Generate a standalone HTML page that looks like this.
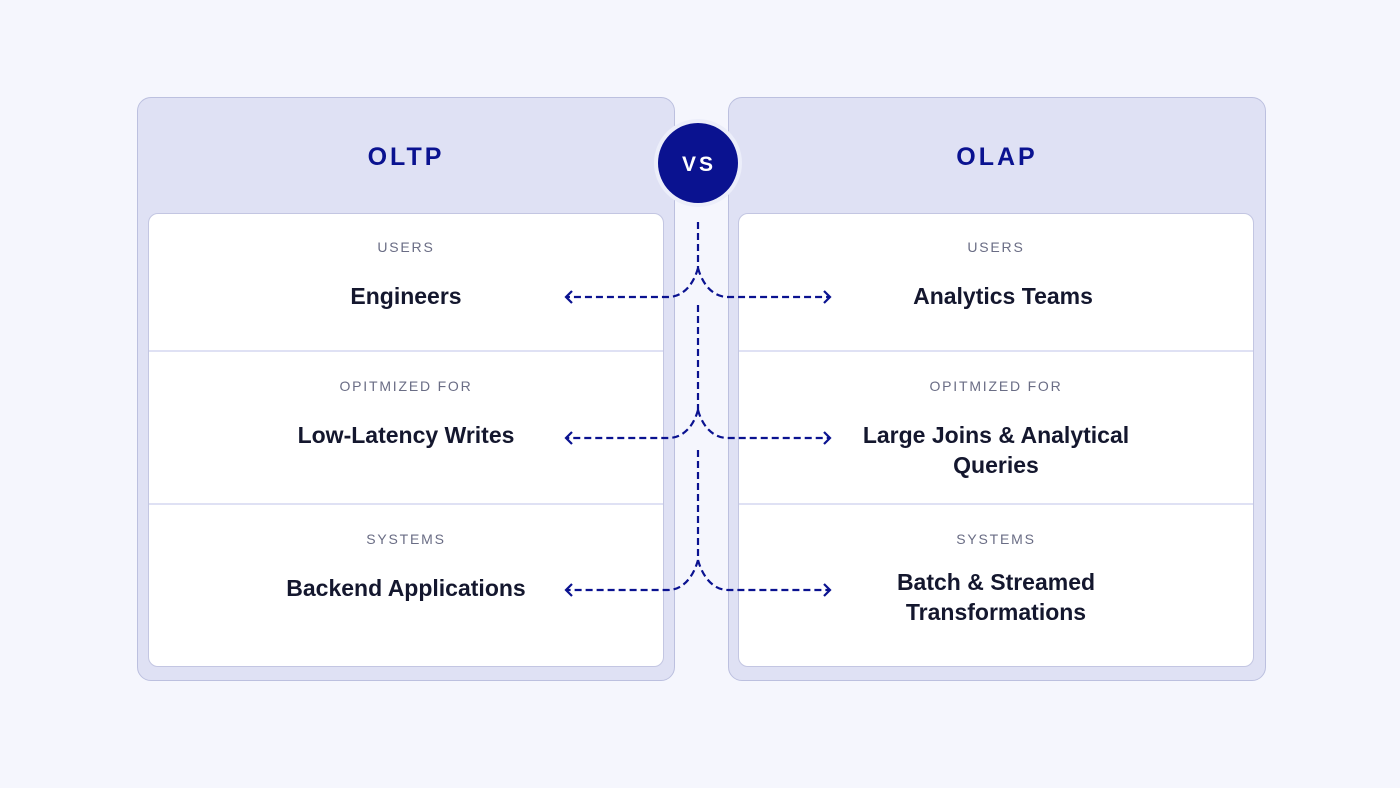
<!DOCTYPE html>
<html><head><style>
body{margin:0;width:1400px;height:788px;background:#f5f6fd;position:relative;overflow:hidden;font-family:"Liberation Sans",sans-serif}
.outer{position:absolute;top:97px;width:538px;height:584px;background:#dfe1f4;border:1.5px solid #bcc0df;border-radius:14px;box-sizing:border-box}
.inner{position:absolute;top:213px;width:516px;height:454px;background:#fff;border:1.5px solid #c3c6e2;border-radius:10px;box-sizing:border-box}
.div{position:absolute;height:2px;background:#dfe1f4;width:514px}
.h{position:absolute;top:143px;width:538px;text-align:center;font-size:25px;font-weight:bold;letter-spacing:3px;color:#0a1290}
.lab{position:absolute;width:516px;text-align:center;font-size:14px;letter-spacing:1.8px;color:#6a6d85}
.t{position:absolute;width:516px;text-align:center;font-size:23px;font-weight:bold;color:#14172e;line-height:30px}
</style></head><body>
<div class="outer" style="left:137px"></div>
<div class="outer" style="left:728px"></div>
<div class="inner" style="left:148px"></div>
<div class="inner" style="left:738px"></div>
<div class="div" style="left:149px;top:350px"></div>
<div class="div" style="left:149px;top:503px"></div>
<div class="div" style="left:739px;top:350px"></div>
<div class="div" style="left:739px;top:503px"></div>
<div class="h" style="left:137px">OLTP</div>
<div class="h" style="left:728px">OLAP</div>

<div class="lab" style="left:148px;top:239px">USERS</div>
<div class="t" style="left:148px;top:281px">Engineers</div>
<div class="lab" style="left:148px;top:378px">OPITMIZED FOR</div>
<div class="t" style="left:148px;top:420px">Low-Latency Writes</div>
<div class="lab" style="left:148px;top:531px">SYSTEMS</div>
<div class="t" style="left:148px;top:573px">Backend Applications</div>

<div class="lab" style="left:738px;top:239px">USERS</div>
<div class="t" style="left:745px;top:281px">Analytics Teams</div>
<div class="lab" style="left:738px;top:378px">OPITMIZED FOR</div>
<div class="t" style="left:738px;top:420px">Large Joins &amp; Analytical<br>Queries</div>
<div class="lab" style="left:738px;top:531px">SYSTEMS</div>
<div class="t" style="left:738px;top:567px">Batch &amp; Streamed<br>Transformations</div>

<svg width="1400" height="788" style="position:absolute;left:0;top:0">
<circle cx="698" cy="163" r="44" fill="#eceefa"/>
<circle cx="698" cy="163" r="40" fill="#0a1290"/>
<text x="699" y="171" text-anchor="middle" font-family="Liberation Sans" font-weight="bold" font-size="21" letter-spacing="3" fill="#fff">VS</text>
<g fill="none" stroke="#0a1290" stroke-width="2.2" stroke-dasharray="7 4">
<path d="M698 222V268 M698 268C702 283 712 297 728 297H829 M698 268C694 283 684 297 668 297H567"/>
<path d="M698 305V410 M698 410C702 425 712 438 728 438H829 M698 410C694 425 684 438 668 438H567"/>
<path d="M698 450V560 M698 560C702 575 712 590 728 590H829 M698 560C694 575 684 590 668 590H567"/>
</g>
<g fill="none" stroke="#0a1290" stroke-width="2.2">
<path d="M824 291L830 297L824 303M572 291L566 297L572 303"/>
<path d="M824 432L830 438L824 444M572 432L566 438L572 444"/>
<path d="M824 584L830 590L824 596M572 584L566 590L572 596"/>
</g>
</svg>
</body></html>
